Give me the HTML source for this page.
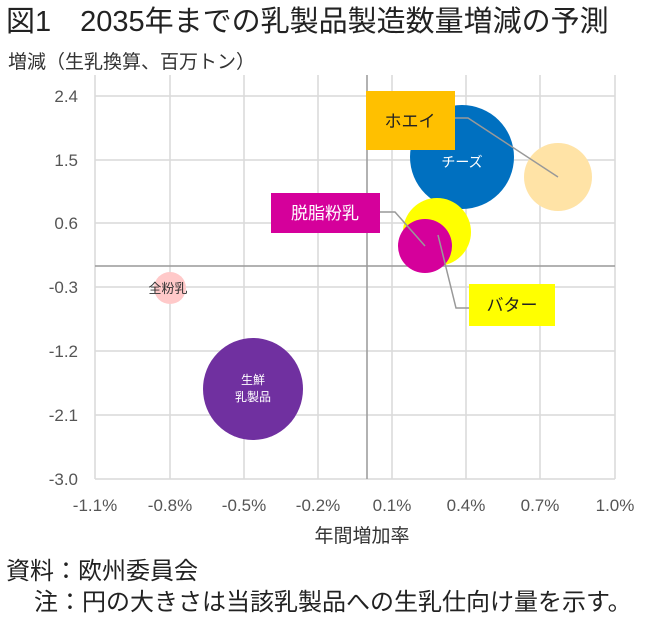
<!DOCTYPE html>
<html><head><meta charset="utf-8"><style>
body{margin:0;background:#fff;}
svg text{font-family:"Liberation Sans","Noto Sans CJK JP",sans-serif;}
</style></head><body>
<svg width="650" height="619" viewBox="0 0 650 619" xmlns="http://www.w3.org/2000/svg">
<rect width="650" height="619" fill="#fff"/>
<text x="6" y="31" font-size="29" fill="#222">図1　2035年までの乳製品製造数量増減の予測</text>
<text x="8" y="68" font-size="19" fill="#333">増減（生乳換算、百万トン）</text>
<g stroke="#d9d9d9" stroke-width="1.5" fill="none">
<line x1="95" y1="96" x2="615" y2="96"/><line x1="95" y1="160" x2="615" y2="160"/>
<line x1="95" y1="223" x2="615" y2="223"/><line x1="95" y1="287" x2="615" y2="287"/>
<line x1="95" y1="351" x2="615" y2="351"/><line x1="95" y1="415" x2="615" y2="415"/>
<line x1="95" y1="479" x2="615" y2="479"/>
<line x1="95" y1="75" x2="95" y2="479"/><line x1="170" y1="75" x2="170" y2="479"/>
<line x1="244" y1="75" x2="244" y2="479"/><line x1="318" y1="75" x2="318" y2="479"/>
<line x1="392" y1="75" x2="392" y2="479"/><line x1="466" y1="75" x2="466" y2="479"/>
<line x1="540" y1="75" x2="540" y2="479"/><line x1="615" y1="75" x2="615" y2="479"/>
</g>
<g stroke="#999" stroke-width="1.5">
<line x1="95" y1="266" x2="615" y2="266"/><line x1="367" y1="75" x2="367" y2="479"/>
</g>
<g font-size="17" fill="#555" text-anchor="end">
<text x="78" y="102">2.4</text><text x="78" y="166">1.5</text><text x="78" y="229">0.6</text>
<text x="78" y="293">-0.3</text><text x="78" y="357">-1.2</text><text x="78" y="421">-2.1</text><text x="78" y="485">-3.0</text>
</g>
<g font-size="17" fill="#555" text-anchor="middle">
<text x="95" y="511">-1.1%</text><text x="170" y="511">-0.8%</text><text x="244" y="511">-0.5%</text>
<text x="318" y="511">-0.2%</text><text x="392" y="511">0.1%</text><text x="466" y="511">0.4%</text>
<text x="540" y="511">0.7%</text><text x="615" y="511">1.0%</text>
</g>
<text x="362" y="542" font-size="19" fill="#333" text-anchor="middle">年間増加率</text>
<circle cx="558" cy="177" r="34" fill="#FFE3A6"/>
<circle cx="462" cy="157" r="52" fill="#0070C0"/>
<text x="462" y="167" font-size="14" fill="#fff" text-anchor="middle">チーズ</text>
<circle cx="437" cy="232" r="34" fill="#FFFF00"/>
<circle cx="425" cy="246" r="27" fill="#D5009B"/>
<circle cx="170" cy="288" r="16" fill="#FFC9C9"/>
<text x="168" y="293" font-size="13" fill="#333" text-anchor="middle">全粉乳</text>
<ellipse cx="253" cy="389" rx="50" ry="51" fill="#7030A0"/>
<text x="253" y="384" font-size="12" fill="#fff" text-anchor="middle">生鮮</text>
<text x="253" y="401" font-size="12" fill="#fff" text-anchor="middle">乳製品</text>
<g stroke="#999" stroke-width="1.5" fill="none">
<polyline points="455,118 468,118 558,177"/>
<polyline points="380,212 395,212 425,246"/>
<polyline points="438,235 456,308 469,308"/>
</g>
<rect x="366" y="91" width="89" height="59" fill="#FFC000"/>
<text x="410" y="127" font-size="17" fill="#222" text-anchor="middle">ホエイ</text>
<rect x="271" y="193" width="109" height="40" fill="#D5009B"/>
<text x="325" y="219" font-size="17" fill="#fff" text-anchor="middle">脱脂粉乳</text>
<rect x="469" y="284" width="86" height="42" fill="#FFFF00"/>
<text x="512" y="311" font-size="17" fill="#222" text-anchor="middle">バター</text>
<text x="6" y="579" font-size="24" fill="#222">資料：欧州委員会</text>
<text x="34" y="610" font-size="24" fill="#222">注：円の大きさは当該乳製品への生乳仕向け量を示す。</text>
</svg>
</body></html>
